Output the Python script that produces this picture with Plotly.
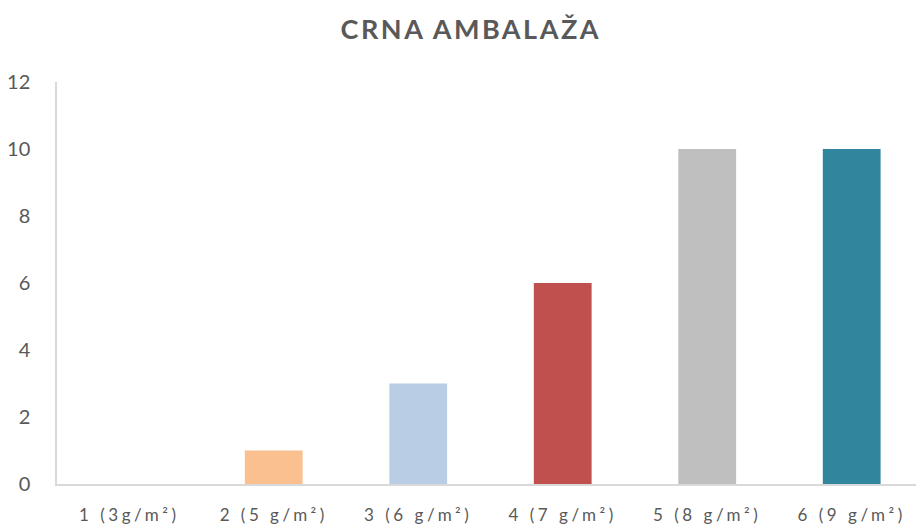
import plotly.graph_objects as go

# Packaging weight categories and counts
categories = ["1 (3g/m²)", "2 (5 g/m²)", "3 (6 g/m²)", "4 (7 g/m²)", "5 (8 g/m²)", "6 (9 g/m²)"]
values = [0, 1, 3, 6, 10, 10]
bar_colors = ["#4F81BD", "#FAC090", "#B9CDE5", "#C0504D", "#BFBFBF", "#31859C"]
y_ticks = [0, 2, 4, 6, 8, 10, 12]

FONT = "Lato, 'Open Sans', sans-serif"
TEXT_COLOR = "#595959"
AXIS_COLOR = "#D9D9D9"

fig = go.Figure(
    go.Bar(
        x=list(range(len(categories))),
        y=values,
        marker=dict(color=bar_colors, line=dict(width=0)),
        hoverinfo="skip",
    )
)

fig.update_layout(
    width=916,
    height=525,
    margin=dict(l=57, r=0, t=82, b=41),
    paper_bgcolor="white",
    plot_bgcolor="white",
    bargap=0.6,
    showlegend=False,
    title=dict(
        text="<b>CRNA AMBALAŽA</b>",
        x=0.514,
        xref="container",
        xanchor="center",
        y=0.943,
        yref="container",
        yanchor="middle",
        font=dict(family=FONT, size=27, color=TEXT_COLOR),
    ),
)

fig.update_xaxes(
    tickmode="array",
    tickvals=list(range(len(categories))),
    ticktext=categories,
    range=[-0.5, 5.445],
    showgrid=False,
    zeroline=False,
    showline=True,
    linecolor=AXIS_COLOR,
    linewidth=2,
    ticks="",
    ticklabelstandoff=15,
    tickfont=dict(family=FONT, size=17, color=TEXT_COLOR),
)

fig.update_yaxes(
    range=[0, 12],
    tickmode="array",
    tickvals=y_ticks,
    showgrid=False,
    zeroline=False,
    showline=True,
    linecolor=AXIS_COLOR,
    linewidth=1.5,
    ticks="",
    ticklabelstandoff=21,
    tickfont=dict(family=FONT, size=20, color=TEXT_COLOR),
)

# Widen character spacing of the category labels and title
post_js = """
document.querySelectorAll('.xtick text').forEach(function(t){ t.style.letterSpacing = '3.5px'; });
document.querySelectorAll('.gtitle').forEach(function(t){ t.style.letterSpacing = '2.5px'; });
"""

fig.write_html("out.html", post_script=post_js)
